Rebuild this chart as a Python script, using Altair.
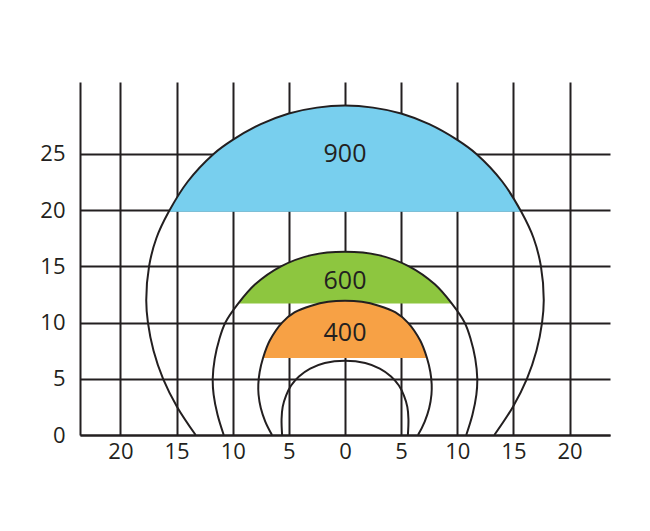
import altair as alt
import pandas as pd

# ---- data ----
x_ticks = [-20, -15, -10, -5, 0, 5, 10, 15, 20]
y_ticks = [0, 5, 10, 15, 20, 25]

# outer isoline (900 cap)
c900_x = [-13.3, -14.95, -16.2, -17.05, -17.55, -17.7, -17.45, -16.8, -15.7, -14.0, -11.7, -10.0, -7.5, -5.0, -2.5, 0.0,
          2.5, 5.0, 7.5, 10.0, 11.7, 14.0, 15.7, 16.8, 17.45, 17.7, 17.55, 17.05, 16.2, 14.95, 13.3]
c900_y = [0.0, 2.5, 5.0, 7.5, 10.0, 12.0, 15.0, 17.5, 19.85, 22.55, 25.0, 26.25, 27.65, 28.6, 29.12, 29.3,
          29.12, 28.6, 27.65, 26.25, 25.0, 22.55, 19.85, 17.5, 15.0, 12.0, 10.0, 7.5, 5.0, 2.5, 0.0]

# 600 isoline
c600_x = [-10.8, -11.35, -11.7, -11.78, -11.6, -11.2, -10.65, -9.5, -8.0, -5.7, -3.0, 0.0,
          3.0, 5.7, 8.0, 9.5, 10.65, 11.2, 11.6, 11.78, 11.7, 11.35, 10.8]
c600_y = [0.0, 1.8, 3.6, 5.0, 6.8, 8.5, 10.0, 11.7, 13.4, 15.0, 16.0, 16.3,
          16.0, 15.0, 13.4, 11.7, 10.0, 8.5, 6.8, 5.0, 3.6, 1.8, 0.0]

# 400 isoline
c400_x = [-6.5, -7.1, -7.5, -7.7, -7.72, -7.6, -7.3, -6.7, -5.6, -4.5, -3.0, -1.5, 0.0,
          1.5, 3.0, 4.5, 5.6, 6.7, 7.3, 7.6, 7.72, 7.7, 7.5, 7.1, 6.5]
c400_y = [0.0, 1.2, 2.4, 3.6, 4.5, 5.6, 6.85, 8.4, 10.0, 10.9, 11.5, 11.85, 11.95,
          11.85, 11.5, 10.9, 10.0, 8.4, 6.85, 5.6, 4.5, 3.6, 2.4, 1.2, 0.0]

# innermost isoline
core_x = [-5.6, -5.65, -5.55, -5.25, -4.8, -4.1, -3.1, -1.8, 0.0, 1.8, 3.1, 4.1, 4.8, 5.25, 5.55, 5.65, 5.6]
core_y = [0.0, 1.4, 2.5, 3.5, 4.4, 5.2, 5.9, 6.4, 6.6, 6.4, 5.9, 5.2, 4.4, 3.5, 2.5, 1.4, 0.0]

cap_names = ["900", "600", "400"]
cap_levels = [19.85, 11.7, 6.85]
cap_colors = ["#78cfee", "#8dc63f", "#f7a145"]

label_text = ["900", "600", "400"]
label_x = [0, 0, 0]
label_y = [25.0, 13.7, 9.1]

# ---- tables ----
rows = []
for name, xs, ys in [("900", c900_x, c900_y), ("600", c600_x, c600_y),
                     ("400", c400_x, c400_y), ("core", core_x, core_y)]:
    for i, (a, b) in enumerate(zip(xs, ys)):
        rows.append({"curve": name, "i": i, "x": a, "y": b})
curves = pd.DataFrame(rows)
labels = pd.DataFrame({"t": label_text, "x": label_x, "y": label_y})

INK = "#231f20"
FONT = "Open Sans"

xenc = alt.X("x:Q", title=None,
             scale=alt.Scale(domain=[-23.6, 23.6], nice=False, zero=False),
             axis=alt.Axis(values=x_ticks, labelExpr="abs(datum.value)", ticks=False,
                           grid=True, domain=True, labelPadding=6, labelFontSize=22))
yenc = alt.Y("y:Q", title=None, stack=None,
             scale=alt.Scale(domain=[0, 31.4], nice=False, zero=False),
             axis=alt.Axis(values=y_ticks, ticks=False, grid=True, domain=True,
                           labelPadding=15, labelFontSize=22))

layers = []
for name, level, color in zip(cap_names, cap_levels, cap_colors):
    layers.append(
        alt.Chart(curves)
        .transform_filter(f"datum.curve == '{name}' && datum.y >= {level - 0.001}")
        .transform_calculate(base=f"{level}")
        .mark_area(color=color, interpolate="catmull-rom", opacity=1)
        .encode(x=xenc, y=yenc, y2=alt.Y2("base:Q"))
    )

lines = (
    alt.Chart(curves)
    .mark_line(color=INK, strokeWidth=2, interpolate="catmull-rom")
    .encode(x=xenc, y=yenc, detail="curve:N", order="i:Q")
)

texts = (
    alt.Chart(labels)
    .mark_text(font=FONT, fontSize=25, color=INK, baseline="middle", align="center")
    .encode(x=xenc, y=yenc, text="t:N")
)

chart = (
    alt.layer(*layers, lines, texts)
    .properties(width=530, height=353,
                padding={"left": 72, "top": 74, "right": 32, "bottom": 80},
                autosize=alt.AutoSizeParams(type="none"))
    .configure_view(stroke=None)
    .configure_axis(labelFont=FONT, labelColor=INK, gridColor=INK, gridWidth=2, gridOpacity=1,
                    domainColor=INK, domainWidth=2)
)

chart.save("out.html", embed_options={"renderer": "svg", "actions": False})
